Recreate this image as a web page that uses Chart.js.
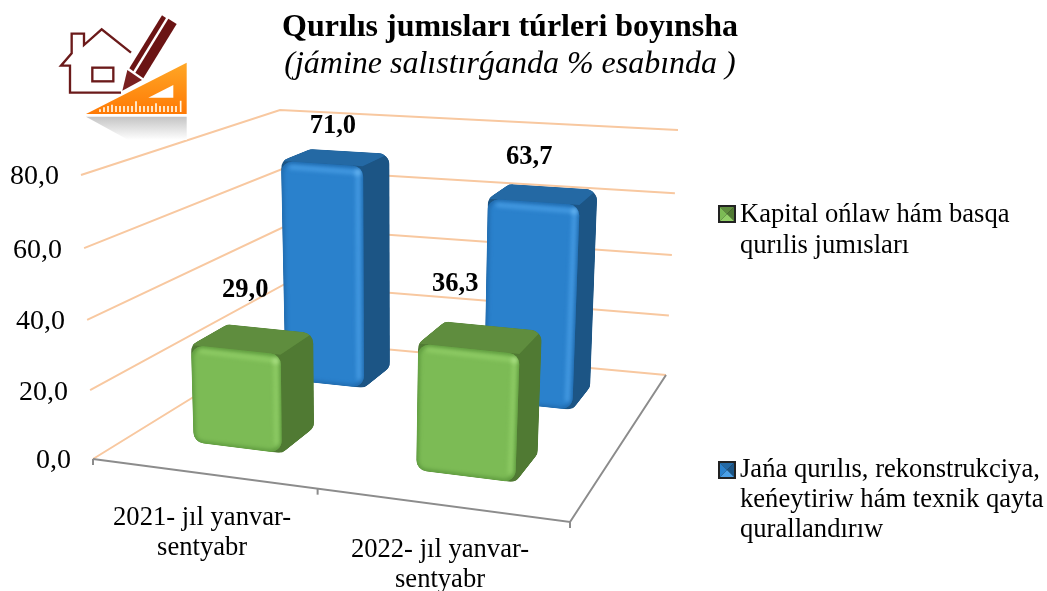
<!DOCTYPE html>
<html>
<head>
<meta charset="utf-8">
<style>
  html, body { margin: 0; padding: 0; background: #fff; }
  #wrap { position: relative; width: 1047px; height: 591px; overflow: hidden; }
  #icon { position: absolute; left: 50px; top: 0; }
</style>
<script src="https://cdn.jsdelivr.net/npm/chart.js@4"></script>
</head>
<body>
<div id="wrap">
  <canvas id="chart" width="1047" height="591"></canvas>
  <svg id="icon" width="160" height="140" viewBox="0 0 480 420">
    <defs>
      <linearGradient id="ruler" x1="0" y1="0" x2="0" y2="1">
        <stop offset="0" stop-color="#ffa726"/><stop offset="1" stop-color="#ff7a05"/>
      </linearGradient>
      <linearGradient id="shade" x1="0" y1="0" x2="0" y2="1">
        <stop offset="0" stop-color="#c4c4c4"/><stop offset="1" stop-color="#ffffff"/>
      </linearGradient>
    </defs>
    <polygon points="108,350 410,350 410,420 235,420" fill="url(#shade)"/>
    <path d="M243 158 L155 88 L102 135 L102 101 L65 101 L65 160 L33 197 L60 197 L60 278 L213 278" fill="none" stroke="#6b1a1a" stroke-width="7"/>
    <rect x="127" y="203" width="63" height="41" fill="none" stroke="#6b1a1a" stroke-width="7"/>
    <polygon points="238,205 336,46 348,54 250,214" fill="#6b1414"/>
    <polygon points="256,218 355,56 380,72 280,235" fill="#6b1414"/>
    <polygon points="232,210 276,240 217,272" fill="#7a2020"/>
    <polygon points="108,342 410,188 410,342" fill="url(#ruler)"/>
    <polygon points="295,293 370,255 370,293" fill="#fff"/>
    <path d="M150 336V328M162 336V322M174 336V318M186 336V314M198 336V318M210 336V318M222 336V318M234 336V318M246 336V318M258 336V304M270 336V318M282 336V318M294 336V318M306 336V318M318 336V310M330 336V318M342 336V318M354 336V318M366 336V318M378 336V318M392 336V302" stroke="#fff8e8" stroke-width="5"/>
  </svg>
</div>
<script>
const categories = [['2021- jıl yanvar-', 'sentyabr'], ['2022- jıl yanvar-', 'sentyabr']];
const kapitalName = ['Kapital ońlaw hám basqa', 'qurılis jumısları'];
const janaName = ['Jańa qurılıs, rekonstrukciya,', 'keńeytiriw hám texnik qayta', 'qurallandırıw'];
const kapitalValues = [29.0, 36.3];
const janaValues = [71.0, 63.7];
const yTicks = [0, 20, 40, 60, 80];
const titleText = 'Qurılıs jumısları túrleri boyınsha';
const subtitleText = '(jámine salıstırǵanda % esabında )';

// floor and ceiling corners of the 3d box
const floorC = { fl: [93, 459], fr: [570, 522], br: [666, 375], bl: [286, 340] };
const topC = { fl: [81, 175], fr: [584, 217], br: [678, 130], bl: [280, 110] };

const serif = '"Liberation Serif", "Times New Roman", serif';

const blue = { front: '#2a81cc', edge: '#1c5f9e', light: '#4a9fe6', top: '#2469a4', side: '#1c5585', glow: '#6ab8f5' };
const green = { front: '#7cbb55', edge: '#4f8a33', light: '#92cf68', top: '#5f8d3e', side: '#507a33', glow: '#b0e58a' };

const lerp = (a, b, t) => [a[0] + (b[0] - a[0]) * t, a[1] + (b[1] - a[1]) * t];
const bilinear = (c, u, v) => lerp(lerp(c.fl, c.fr, u), lerp(c.bl, c.br, u), v);
// small perspective corrections along width and height
const warpU = s => s * 0.89 / (1 - 0.11 * s);
const warpT = t => t * 0.96 / (1 - 0.04 * t);
const project = (u, v, t) => lerp(bilinear(floorC, u, v), bilinear(topC, u, v), warpT(t));

const roundPath = (ctx, pts, r) => {
  ctx.beginPath();
  const n = pts.length;
  const mid = lerp(pts[n - 1], pts[0], 0.5);
  ctx.moveTo(mid[0], mid[1]);
  for (let i = 0; i < n; i++) {
    const a = pts[i], b = pts[(i + 1) % n];
    ctx.arcTo(a[0], a[1], b[0], b[1], r);
  }
  ctx.closePath();
};

const fillPoly = (ctx, pts, color) => {
  ctx.beginPath();
  pts.forEach((p, i) => i ? ctx.lineTo(p[0], p[1]) : ctx.moveTo(p[0], p[1]));
  ctx.closePath();
  ctx.fillStyle = color;
  ctx.fill();
};

const drawBar = (ctx, el, chart, depth, col) => {
  const xs = chart.scales.x, ys = chart.scales.y;
  const u0 = warpU((el.x - el.width / 2 - xs.left) / xs.width);
  const u1 = warpU((el.x + el.width / 2 - xs.left) / xs.width);
  const t = (ys.bottom - el.y) / ys.height;
  const [v0, v1] = depth;
  const A = project(u0, v0, 0), B = project(u1, v0, 0), C = project(u1, v0, t), D = project(u0, v0, t);
  const E = project(u1, v1, t), F = project(u0, v1, t), G = project(u1, v1, 0);

  ctx.save();
  roundPath(ctx, [A, B, G, E, F, D], 12);
  ctx.clip();
  fillPoly(ctx, [A, B, G, E, F, D], col.side);
  fillPoly(ctx, [D, C, E, F], col.top);
  fillPoly(ctx, [B, G, E, C], col.side);
  // front face with soft bevel
  roundPath(ctx, [A, B, C, D], 11);
  ctx.fillStyle = col.front;
  ctx.fill();
  ctx.save();
  roundPath(ctx, [A, B, C, D], 11);
  ctx.clip();
  ctx.filter = 'blur(2px)';
  ctx.strokeStyle = col.edge;
  ctx.lineWidth = 3;
  roundPath(ctx, [A, B, C, D], 11);
  ctx.stroke();
  ctx.strokeStyle = col.light;
  ctx.lineWidth = 4;
  ctx.beginPath();
  ctx.moveTo(D[0] + 8, D[1] + 6);
  ctx.lineTo(C[0] - 5, C[1] + 6);
  ctx.lineTo(B[0] - 5, B[1] - 8);
  ctx.stroke();
  ctx.fillStyle = col.glow;
  ctx.beginPath();
  ctx.arc(C[0] - 5, C[1] + 6, 3, 0, Math.PI * 2);
  ctx.fill();
  ctx.restore();
  ctx.restore();
  return { F, E };
};

const marker = (ctx, x, y, size, col) => {
  ctx.fillStyle = '#222';
  ctx.fillRect(x, y, size, size);
  const a = [x + 2, y + 2], b = [x + size - 2, y + 2], c = [x + size - 2, y + size - 2], d = [x + 2, y + size - 2];
  const m = [x + size / 2, y + size / 2];
  fillPoly(ctx, [a, b, m], col.top);
  fillPoly(ctx, [b, c, m], col.side);
  fillPoly(ctx, [c, d, m], col.light);
  fillPoly(ctx, [d, a, m], col.front);
};

const text = (ctx, str, x, y, font, align) => {
  ctx.font = font;
  ctx.textAlign = align;
  ctx.textBaseline = 'middle';
  ctx.fillStyle = '#000';
  ctx.fillText(str, x, y);
};

const scene3d = {
  id: 'scene3d',
  beforeDatasetsDraw(chart) {
    const ctx = chart.ctx, ys = chart.scales.y, xs = chart.scales.x;
    // gridlines on the two walls
    ctx.save();
    ctx.strokeStyle = '#f8c8a0';
    ctx.lineWidth = 2;
    yTicks.forEach(val => {
      const t = (ys.bottom - ys.getPixelForValue(val)) / ys.height;
      const a = project(0, 0, t), b = project(0, 1, t), c = project(1, 1, t);
      ctx.beginPath();
      ctx.moveTo(a[0], a[1]);
      ctx.lineTo(b[0], b[1]);
      ctx.lineTo(c[0], c[1]);
      ctx.stroke();
      text(ctx, val.toFixed(1).replace('.', ','), a[0] - 22, a[1] + 2, '28px ' + serif, 'right');
    });
    // floor edges and x ticks
    ctx.strokeStyle = '#8c8c8c';
    ctx.lineWidth = 2;
    const fl = project(0, 0, 0), fr = project(1, 0, 0), br = project(1, 1, 0);
    ctx.beginPath();
    ctx.moveTo(fl[0], fl[1]);
    ctx.lineTo(fr[0], fr[1]);
    ctx.lineTo(br[0], br[1]);
    ctx.stroke();
    [0, 0.5, 1].forEach(s => {
      const p = project(warpU(s), 0, 0);
      ctx.beginPath();
      ctx.moveTo(p[0], p[1]);
      ctx.lineTo(p[0], p[1] + 6);
      ctx.stroke();
    });
    xs.ticks.forEach((tick, i) => {
      const p = project(warpU((xs.getPixelForTick(i) - xs.left) / xs.width), 0, 0);
      categories[i].forEach((line, k) => {
        text(ctx, line, p[0], p[1] + 45 + k * 30, '26.6px ' + serif, 'center');
      });
    });
    ctx.restore();
  },
  afterDatasetsDraw(chart) {
    const ctx = chart.ctx;
    const greenBars = chart.getDatasetMeta(0).data;
    const blueBars = chart.getDatasetMeta(1).data;
    const blueTops = blueBars.map(el => drawBar(ctx, el, chart, [0.715, 0.875], blue));
    const greenTops = greenBars.map(el => drawBar(ctx, el, chart, [0.205, 0.405], green));

    const label = (val, top, dx, dy) => {
      const mx = (top.F[0] + top.E[0]) / 2, my = (top.F[1] + top.E[1]) / 2;
      text(ctx, val.toFixed(1).replace('.', ','), mx + dx, my + dy, 'bold 26.5px ' + serif, 'center');
    };
    kapitalValues.forEach((v, i) => label(v, greenTops[i], i ? -38 : -25, i ? -42 : -38));
    janaValues.forEach((v, i) => label(v, blueTops[i], i ? -24 : -17, i ? -30 : -25));

    // title
    text(ctx, titleText, 510, 28, 'bold 32px ' + serif, 'center');
    text(ctx, subtitleText, 510, 65, 'italic 32px ' + serif, 'center');

    // legend
    marker(ctx, 718, 205, 18, green);
    kapitalName.forEach((line, k) => text(ctx, line, 740, 215 + k * 31, '26.6px ' + serif, 'left'));
    marker(ctx, 718, 461, 18, blue);
    janaName.forEach((line, k) => text(ctx, line, 740, 470 + k * 30, '26.6px ' + serif, 'left'));
  }
};

new Chart(document.getElementById('chart'), {
  type: 'bar',
  data: {
    labels: categories,
    datasets: [
      { label: kapitalName.join(' '), data: kapitalValues, backgroundColor: 'transparent', grouped: false },
      { label: janaName.join(' '), data: janaValues, backgroundColor: 'transparent', grouped: false }
    ]
  },
  options: {
    responsive: false,
    animation: false,
    layout: { padding: { left: 93, right: 477, top: 175, bottom: 132 } },
    datasets: { bar: { categoryPercentage: 0.41, barPercentage: 1 } },
    plugins: { legend: { display: false }, title: { display: false }, tooltip: { enabled: false } },
    scales: {
      x: { display: false },
      y: { display: false, min: 0, max: 80, ticks: { stepSize: 20 } }
    }
  },
  plugins: [scene3d]
});
</script>
</body>
</html>
